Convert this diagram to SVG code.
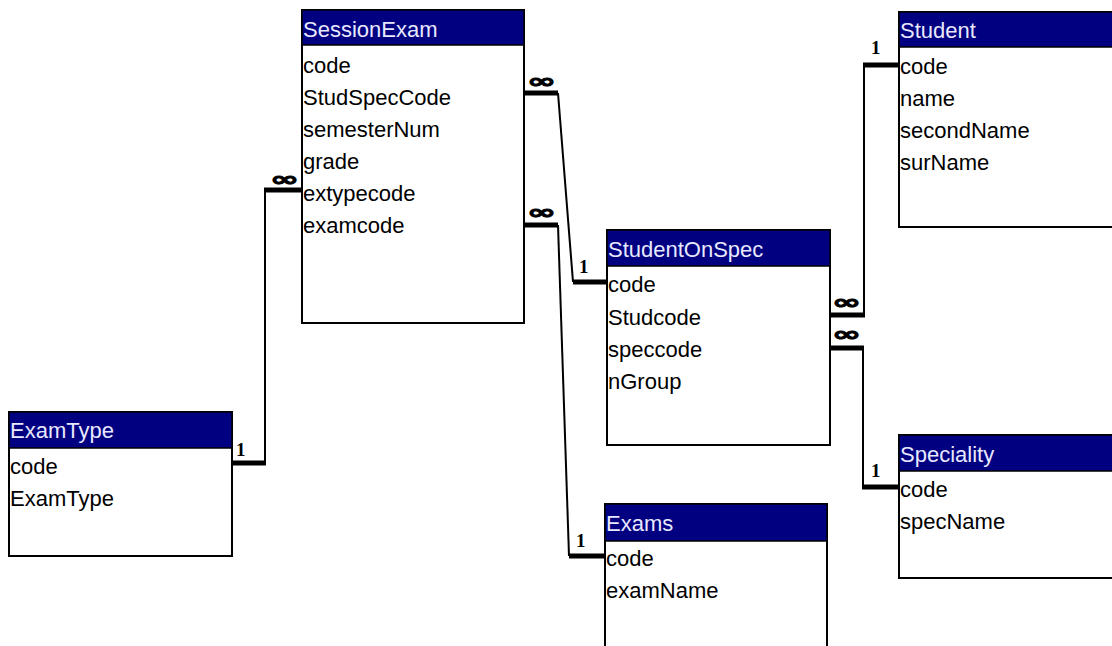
<svg xmlns="http://www.w3.org/2000/svg" width="1112" height="646" viewBox="0 0 1112 646">
<style>
.box{fill:#fff;stroke:#000;stroke-width:2}
.hdr{fill:#000080;stroke:#000;stroke-width:1.5}
.title{font-family:"Liberation Sans",Arial,sans-serif;font-size:22px;fill:#e8e8ff}
.fld{font-family:"Liberation Sans",Arial,sans-serif;font-size:22px;fill:#000}
.thin{fill:none;stroke:#000;stroke-width:2}
.thick{fill:none;stroke:#000;stroke-width:5}
.one{font-family:"Liberation Serif","Times New Roman",serif;font-size:19px;font-weight:bold;fill:#000}
.inf{font-family:"DejaVu Sans",sans-serif;font-size:20px;font-weight:bold;fill:#000;stroke:#000;stroke-width:0.9}
</style>
<rect width="1112" height="646" fill="#fff"/>
<g id="connectors">
  <!-- SessionExam.StudSpecCode -> StudentOnSpec.code -->
  <polyline class="thin" points="558,93 573,282"/>
  <line class="thick" x1="524" y1="93" x2="558" y2="93"/>
  <line class="thick" x1="573" y1="282" x2="607" y2="282"/>
  <text class="inf" x="527" y="88" textLength="29" lengthAdjust="spacingAndGlyphs">∞</text>
  <text class="one" x="579" y="273">1</text>
  <!-- SessionExam.examcode -> Exams.code -->
  <polyline class="thin" points="558,225 569,556"/>
  <line class="thick" x1="524" y1="225" x2="558" y2="225"/>
  <line class="thick" x1="569" y1="556" x2="605" y2="556"/>
  <text class="inf" x="527" y="219" textLength="29" lengthAdjust="spacingAndGlyphs">∞</text>
  <text class="one" x="576" y="547">1</text>
  <!-- ExamType.code -> SessionExam.extypecode -->
  <line class="thin" x1="265" y1="463" x2="265" y2="190"/>
  <line class="thick" x1="232" y1="463" x2="266" y2="463"/>
  <line class="thick" x1="264" y1="190" x2="302" y2="190"/>
  <text class="inf" x="270" y="186" textLength="29" lengthAdjust="spacingAndGlyphs">∞</text>
  <text class="one" x="236" y="456">1</text>
  <!-- StudentOnSpec.Studcode -> Student.code -->
  <line class="thin" x1="864" y1="315" x2="864" y2="65"/>
  <line class="thick" x1="830" y1="315" x2="865" y2="315"/>
  <line class="thick" x1="863" y1="65" x2="899" y2="65"/>
  <text class="inf" x="832" y="309" textLength="29" lengthAdjust="spacingAndGlyphs">∞</text>
  <text class="one" x="871" y="54">1</text>
  <!-- StudentOnSpec.speccode -> Speciality.code -->
  <line class="thin" x1="863" y1="348" x2="863" y2="487"/>
  <line class="thick" x1="830" y1="348" x2="864" y2="348"/>
  <line class="thick" x1="862" y1="487" x2="899" y2="487"/>
  <text class="inf" x="832" y="341" textLength="29" lengthAdjust="spacingAndGlyphs">∞</text>
  <text class="one" x="871" y="477">1</text>
</g>
<g id="SessionExam">
  <rect class="box" x="302" y="10" width="222" height="313"/>
  <rect class="hdr" x="302" y="10" width="222" height="35"/>
  <text class="title" x="303" y="37">SessionExam</text>
  <text class="fld" x="303" y="73">code</text>
  <text class="fld" x="303" y="105">StudSpecCode</text>
  <text class="fld" x="303" y="137">semesterNum</text>
  <text class="fld" x="303" y="169">grade</text>
  <text class="fld" x="303" y="201">extypecode</text>
  <text class="fld" x="303" y="233">examcode</text>
</g>
<g id="StudentOnSpec">
  <rect class="box" x="607" y="230" width="223" height="215"/>
  <rect class="hdr" x="607" y="230" width="223" height="36"/>
  <text class="title" x="608" y="257">StudentOnSpec</text>
  <text class="fld" x="608" y="292">code</text>
  <text class="fld" x="608" y="325">Studcode</text>
  <text class="fld" x="608" y="357">speccode</text>
  <text class="fld" x="608" y="389">nGroup</text>
</g>
<g id="Student">
  <rect class="box" x="899" y="12" width="220" height="215"/>
  <rect class="hdr" x="899" y="12" width="220" height="35"/>
  <text class="title" x="900" y="38">Student</text>
  <text class="fld" x="900" y="74">code</text>
  <text class="fld" x="900" y="106">name</text>
  <text class="fld" x="900" y="138">secondName</text>
  <text class="fld" x="900" y="170">surName</text>
</g>
<g id="ExamType">
  <rect class="box" x="9" y="412" width="223" height="144"/>
  <rect class="hdr" x="9" y="412" width="223" height="36"/>
  <text class="title" x="10" y="438">ExamType</text>
  <text class="fld" x="10" y="474">code</text>
  <text class="fld" x="10" y="506">ExamType</text>
</g>
<g id="Exams">
  <rect class="box" x="605" y="504" width="222" height="160"/>
  <rect class="hdr" x="605" y="504" width="222" height="37"/>
  <text class="title" x="606" y="531">Exams</text>
  <text class="fld" x="606" y="566">code</text>
  <text class="fld" x="606" y="598">examName</text>
</g>
<g id="Speciality">
  <rect class="box" x="899" y="435" width="220" height="143"/>
  <rect class="hdr" x="899" y="435" width="220" height="36"/>
  <text class="title" x="900" y="462">Speciality</text>
  <text class="fld" x="900" y="497">code</text>
  <text class="fld" x="900" y="529">specName</text>
</g>
</svg>
